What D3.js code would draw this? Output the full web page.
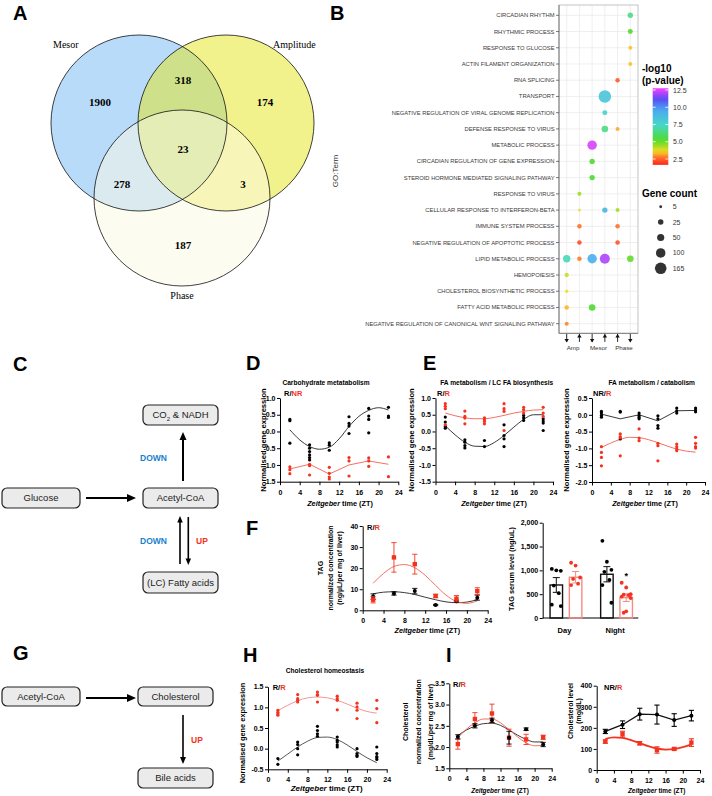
<!DOCTYPE html>
<html><head><meta charset="utf-8">
<script src="https://cdn.jsdelivr.net/npm/d3@7"></script>
<style>body{margin:0;background:#fff}svg{display:block}</style>
</head><body><svg id="c" width="712" height="796"></svg>
<script>
// ---------------- DATA ----------------
// Panel A (Venn)
const vennSets = ["Mesor", "Amplitude", "Phase"];
const vennRegions = ["M", "MA", "A", "MAP", "MP", "AP", "P"];
const vennCounts = [1900, 318, 174, 23, 278, 3, 187];

// Panel B (GO dot plot)
const goTerms = ["CIRCADIAN RHYTHM","RHYTHMIC PROCESS","RESPONSE TO GLUCOSE","ACTIN FILAMENT ORGANIZATION","RNA SPLICING","TRANSPORT","NEGATIVE REGULATION OF VIRAL GENOME REPLICATION","DEFENSE RESPONSE TO VIRUS","METABOLIC PROCESS","CIRCADIAN REGULATION OF GENE EXPRESSION","STEROID HORMONE MEDIATED SIGNALING PATHWAY","RESPONSE TO VIRUS","CELLULAR RESPONSE TO INTERFERON-BETA","IMMUNE SYSTEM PROCESS","NEGATIVE REGULATION OF APOPTOTIC PROCESS","LIPID METABOLIC PROCESS","HEMOPOIESIS","CHOLESTEROL BIOSYNTHETIC PROCESS","FATTY ACID METABOLIC PROCESS","NEGATIVE REGULATION OF CANONICAL WNT SIGNALING PATHWAY"];
const goGroups = ["Amp", "Mesor", "Phase"];
const goDirections = ["down","up","down","up","up","down"];
const goDotTerm  = [0,1,2,3,4,5,6,7,7,8, 9,10,11,12,12,12,13,13,14,14, 15,15,15,15,15,16,17,18,18,19];
const goDotCol   = [5,5,5,5,4,3,3,3,4,2, 2,2,1,1,3,4,1,4,1,4, 0,1,2,3,5,0,0,0,2,0];
const goDotLogP  = [6.5,5.3,3.4,3.4,2.4,8.3,7.7,6.5,3.2,12.4, 5.3,5.3,4.4,3.7,9.0,4.4,2.7,2.7,2.2,2.3, 7.2,2.8,9.3,12.0,5.0,4.0,3.6,3.3,5.3,2.9];
const goDotCount = [24,20,12,12,15,200,20,40,12,98, 24,24,12,5,24,12,16,16,16,16, 54,16,98,114,40,14,8,16,40,12];
const pLegendTicks = [2.5, 5.0, 7.5, 10.0, 12.5];
const countLegend = [5, 25, 50, 100, 165];

// Time points
const ZT = [2, 6, 10, 14, 18, 22];
const curveZT = [2, 4, 6, 8, 10, 12, 14, 16, 18, 20, 22];
const ztTicks = [0, 4, 8, 12, 16, 20, 24];

// Panel D
const dBlackPts = [[0.36,0.32,-0.35],[-0.4,-0.5,-0.6,-0.7,-0.78,-0.85],[-0.34,-0.41,-0.56],[0.44,0.24,0.16,-0.06],[0.69,0.46,0.36,-0.04],[0.72,0.46,0.42]];
const dRedPts = [[-1.06,-1.14,-1.26],[-0.98,-1.02,-1.3],[-1.07,-1.25,-1.36,-1.42],[-0.78,-0.88,-1.33],[-0.79,-0.88,-1.04],[-0.76,-1.35]];
const dBlackCurve = [0.05,-0.25,-0.45,-0.53,-0.47,-0.22,0.15,0.45,0.63,0.71,0.64];
const dRedLine = [-1.12,-0.98,-1.27,-1.0,-0.88,-0.98];

// Panel E left
const eLBlackPts = [[0.43,0.28,0.15,0.10],[-0.25,-0.32,-0.42,-0.49],[-0.27,-0.45],[0.2,-0.12,-0.22,-0.45],[0.48,0.41,0.33],[0.38,0.31,0.25,0.03]];
const eLRedPts = [[0.83,0.75,0.68,0.2],[0.61,0.45,0.4,0.23],[0.41,0.35,0.3,0.23],[0.83,0.68,0.6,0.03],[0.72,0.65,0.55],[0.72,0.55,0.45]];
const eLBlackCurve = [0.17,-0.1,-0.32,-0.44,-0.45,-0.33,-0.12,0.13,0.36,0.5,0.5];
const eLRedCurve = [0.55,0.47,0.41,0.38,0.38,0.42,0.48,0.55,0.6,0.64,0.65];

// Panel E right
const eRBlackPts = [[0.1,0.05,-0.02,-0.07],[0.1,0.08,-0.72],[0.05,-0.02,-0.07,-0.12],[-0.03,-0.12,-0.32,-0.4],[0.2,0.12,0.05],[0.2,0.14,0.09]];
const eRBlackLine = [0.02,-0.12,0.0,-0.18,0.12,0.13];
const eRRedPts = [[-0.95,-1.12,-1.27,-1.52],[-0.57,-0.65,-0.69,-1.22],[-0.42,-0.69,-0.77],[-0.85,-0.92,-1.37],[-0.87,-0.95,-1.02,-1.07],[-0.67,-0.85,-0.95,-0.99]];
const eRRedCurve = [-0.97,-0.84,-0.73,-0.67,-0.68,-0.74,-0.83,-0.93,-1.02,-1.08,-1.11];

// Panel F TAG liver
const tagBlackMean = [6.5,8.0,9.1,2.5,4.3,6.0];
const tagBlackErr  = [1.3,0.8,1.3,0.3,0.5,1.2];
const tagRedMean   = [5.0,25.1,21.9,6.8,5.5,9.1];
const tagRedErr    = [1.5,7.0,4.7,0.8,1.5,1.6];
const tagBlackCurve = [7.8,8.6,8.8,8.4,7.5,6.2,5.0,4.0,3.6,3.9,5.1];
const tagRedCurve   = [12.8,17.5,20.8,21.7,20.2,16.6,11.8,7.2,4.2,3.3,4.5];

// Panel F TAG serum
const serumCats = ["Day", "Night"];
const serumBlackMean = [693, 918];
const serumBlackSEM  = [155, 160];
const serumRedMean   = [855, 427];
const serumRedSEM    = [120, 80];
const serumBlackPts = [[1030,1000,990,680,520,280,250],[1620,1180,1010,970,800,690,320]];
const serumRedPts   = [[1160,1100,850,820,720,690],[740,640,500,490,480,450,420,140,110]];

// Panel H
const hRedPts = [[0.93,0.88,0.84,0.81],[1.31,1.21,1.17,1.13],[1.37,1.31,1.29,1.13],[1.27,1.21,1.17,0.94],[1.1,1.01,0.93,0.73],[1.17,0.97,0.63]];
const hBlackPts = [[-0.24,-0.38],[0.16,0.1,0.0,-0.15],[0.54,0.44,0.36,0.3],[0.28,0.2,0.16,0.09,0.04],[0.0,-0.12,-0.16,-0.19],[0.04,-0.12,-0.19,-0.22,-0.26]];
const hRedCurve = [0.92,1.05,1.16,1.23,1.25,1.23,1.17,1.08,0.98,0.9,0.86];
const hBlackCurve = [-0.3,-0.13,0.04,0.18,0.27,0.28,0.22,0.09,-0.07,-0.22,-0.34];

// Panel I left
const iLBlackMean = [2.24,2.5,2.63,2.22,2.42,2.06];
const iLBlackErr  = [0.05,0.05,0.05,0.15,0.03,0.05];
const iLRedMean   = [2.07,2.66,2.79,2.22,2.18,2.23];
const iLRedErr    = [0.12,0.15,0.22,0.2,0.12,0.05];
const iLBlackCurve = [2.27,2.4,2.49,2.55,2.56,2.51,2.4,2.28,2.18,2.12,2.12];
const iLRedCurve   = [2.22,2.42,2.57,2.66,2.66,2.57,2.41,2.24,2.1,2.03,2.04];

// Panel I right
const iRBlackMean = [183,215,265,263,237,258];
const iRBlackErr  = [10,18,28,45,30,25];
const iRRedMean   = [135,170,127,95,100,130];
const iRRedErr    = [8,14,8,15,6,18];
const iRRedCurve  = [148,155,152,142,128,113,102,97,99,108,122];

// ---------------- DRAWING ----------------
const FONT = '"Liberation Sans", Arial, Helvetica, sans-serif';
const SERIF = '"Liberation Serif", "Times New Roman", serif';
const RED = "#f3331f", REDL = "#f2604f", BLUE = "#1a80cc";
const svg = d3.select("#c");
svg.append("rect").attr("width", 712).attr("height", 796).attr("fill", "#fff");

function T(x, y, s, o = {}) {
  const t = svg.append("text").attr("x", x).attr("y", y)
    .attr("font-family", o.family || FONT).attr("font-size", o.size || 7)
    .attr("font-weight", o.weight || "normal").attr("fill", o.fill || "#000")
    .attr("text-anchor", o.anchor || "start");
  if (o.rotate) t.attr("transform", `rotate(-90,${x},${y})`);
  if (o.style) t.attr("font-style", o.style);
  t.text(s);
  return t;
}
const f1 = v => d3.format(".1f")(v).replace("\u2212", "-");
const f0 = v => d3.format("d")(v).replace("\u2212", "-");

// panel letters
[["A",13,20],["B",330,20],["C",13,371],["D",246,370],["E",423,370],["F",246,535],["G",13,660],["H",243,662],["I",446,662]]
  .forEach(([l,x,y]) => T(x, y, l, {size: 20, weight: "bold"}));

// ---------- A: Venn ----------
const vennLayout = [{cx:139,cy:123,fill:"#71b7f5"},{cx:226,cy:123,fill:"#e5e519"},{cx:182,cy:198,fill:"#fbf9e3"}];
vennLayout.forEach(c => svg.append("circle").attr("cx", c.cx).attr("cy", c.cy).attr("r", 88)
  .attr("fill", c.fill).attr("fill-opacity", 0.5).attr("stroke", "none"));
vennLayout.forEach(c => svg.append("circle").attr("cx", c.cx).attr("cy", c.cy).attr("r", 88)
  .attr("fill", "none").attr("stroke", "#111").attr("stroke-width", 0.8));
T(53, 48, vennSets[0], {family: SERIF, size: 10});
T(273, 48, vennSets[1], {family: SERIF, size: 10});
T(182, 299, vennSets[2], {family: SERIF, size: 10, anchor: "middle"});
const vennLabelPos = {M:[100,102], MA:[183,80], A:[265,102], MAP:[183,149], MP:[122,184], AP:[243,184], P:[183,245]};
vennRegions.forEach((r, i) => T(vennLabelPos[r][0], vennLabelPos[r][1] + 4, vennCounts[i], {family: SERIF, size: 11, weight: "bold", anchor: "middle"}));
T(338, 171, "GO:Term", {size: 8, fill: "#333", anchor: "middle", rotate: true});

// ---------- B: dot plot ----------
const pColor = d3.scaleLinear().domain([1.6,2.8,3.6,5.2,7.4,9.6,11.2,12.8])
  .range(["#ff1f1f","#ff7a2a","#f5dd22","#4fdc2a","#46d8c8","#4aa8f0","#5a4af5","#ff40ff"]);
const rSize = d3.scalePow().exponent(0.4).domain([0, 165]).range([0, 5.8]);
const gx = d3.scalePoint().domain(d3.range(6)).range([566.7, 630.3]);
const gy = d3.scalePoint().domain(goTerms).range([15.3, 323.7]);
const P = {l: 559, r: 638, t: 5, b: 333.4};
svg.append("rect").attr("x", P.l).attr("y", P.t).attr("width", P.r - P.l).attr("height", P.b - P.t).attr("fill", "#fff");
goTerms.forEach(t => svg.append("line").attr("x1", P.l).attr("x2", P.r).attr("y1", gy(t)).attr("y2", gy(t)).attr("stroke", "#e8e8e8").attr("stroke-width", 0.7));
d3.range(6).forEach(c => svg.append("line").attr("y1", P.t).attr("y2", P.b).attr("x1", gx(c)).attr("x2", gx(c)).attr("stroke", "#e8e8e8").attr("stroke-width", 0.7));
svg.append("rect").attr("x", P.l).attr("y", P.t).attr("width", P.r - P.l).attr("height", P.b - P.t).attr("fill", "none").attr("stroke", "#b5b5b5").attr("stroke-width", 0.8);
svg.append("line").attr("x1", P.l).attr("x2", P.l).attr("y1", P.t).attr("y2", P.b).attr("stroke", "#8a8a8a").attr("stroke-width", 1.2);
svg.append("line").attr("x1", P.l).attr("x2", P.r).attr("y1", P.b).attr("y2", P.b).attr("stroke", "#8a8a8a").attr("stroke-width", 1.2);
goTerms.forEach(t => {
  svg.append("line").attr("x1", P.l - 3).attr("x2", P.l).attr("y1", gy(t)).attr("y2", gy(t)).attr("stroke", "#444").attr("stroke-width", 0.7);
  T(P.l - 4.5, gy(t) + 2, t, {size: 5.8, fill: "#3a3a3a", anchor: "end"});
});
goDotTerm.forEach((ti, i) => svg.append("circle").attr("cx", gx(goDotCol[i])).attr("cy", gy(goTerms[ti]))
  .attr("r", rSize(goDotCount[i])).attr("fill", pColor(goDotLogP[i])).attr("fill-opacity", 0.9));
goDirections.forEach((d, c) => {
  const cx = gx(c);
  svg.append("line").attr("x1", cx).attr("x2", cx).attr("y1", P.b + 0.5).attr("y2", P.b + 8.5).attr("stroke", "#111").attr("stroke-width", 0.9);
  const tip = d === "down" ? P.b + 9 : P.b + 0.5, base = d === "down" ? tip - 3.5 : tip + 3.5;
  svg.append("path").attr("d", `M${cx-2.2},${base}L${cx+2.2},${base}L${cx},${tip}Z`).attr("fill", "#111");
});
goGroups.forEach((g, k) => T((gx(2*k) + gx(2*k+1)) / 2, 350, g, {size: 6.2, fill: "#333", anchor: "middle"}));

// colour legend
T(642, 72, "-log10", {size: 10, weight: "bold"});
T(642, 84, "(p-value)", {size: 10, weight: "bold"});
const ly = d3.scaleLinear().domain([2.5, 12.5]).range([159, 90]);
const defs = svg.append("defs");
const grad = defs.append("linearGradient").attr("id", "pg").attr("x1", 0).attr("x2", 0).attr("y1", 1).attr("y2", 0);
const vLo = 1.65, vHi = 12.76;
d3.range(0, 1.0001, 0.05).forEach(f => grad.append("stop").attr("offset", f).attr("stop-color", pColor(vLo + f * (vHi - vLo))));
svg.append("rect").attr("x", 652.7).attr("y", ly(vHi)).attr("width", 15.6).attr("height", ly(vLo) - ly(vHi)).attr("fill", "url(#pg)");
pLegendTicks.forEach(v => {
  svg.append("line").attr("x1", 652.7).attr("x2", 655.7).attr("y1", ly(v)).attr("y2", ly(v)).attr("stroke", "#fff").attr("stroke-width", 0.8);
  svg.append("line").attr("x1", 665.3).attr("x2", 668.3).attr("y1", ly(v)).attr("y2", ly(v)).attr("stroke", "#fff").attr("stroke-width", 0.8);
  T(673, ly(v) + 2.5, f1(v), {size: 7, fill: "#333"});
});
// size legend
T(642, 197, "Gene count", {size: 10, weight: "bold"});
const sy = d3.scalePoint().domain(countLegend).range([206.7, 268.3]);
countLegend.forEach(c => {
  svg.append("circle").attr("cx", 660.7).attr("cy", sy(c)).attr("r", rSize(c)).attr("fill", "#333");
  T(672.7, sy(c) + 2.5, c, {size: 7, fill: "#333"});
});

// ---------- C & G: pathway schematics ----------
function box(x, y, w, h, label) {
  svg.append("rect").attr("x", x).attr("y", y).attr("width", w).attr("height", h).attr("rx", 5)
    .attr("fill", "#ebebeb").attr("stroke", "#222").attr("stroke-width", 1.2);
  return T(x + w / 2, y + h / 2 + 3.4, label, {size: 9.5, fill: "#222", anchor: "middle"});
}
function arrow(x1, y1, x2, y2, w, hl, hw) {
  const dx = x2 - x1, dy = y2 - y1, L = Math.hypot(dx, dy), ux = dx / L, uy = dy / L;
  const bx = x2 - ux * hl, by = y2 - uy * hl;
  svg.append("line").attr("x1", x1).attr("y1", y1).attr("x2", bx + ux).attr("y2", by + uy).attr("stroke", "#000").attr("stroke-width", w);
  svg.append("path").attr("d", `M${x2},${y2}L${bx - uy * hw / 2},${by + ux * hw / 2}L${bx + uy * hw / 2},${by - ux * hw / 2}Z`).attr("fill", "#000");
}
const co2 = box(143, 405, 75, 20, "");
co2.append("tspan").text("CO");
co2.append("tspan").attr("font-size", 6).attr("dy", 2.5).text("2");
co2.append("tspan").attr("dy", -2.5).text(" & NADH");
box(2, 488, 78, 20, "Glucose");
box(143, 488, 75, 20, "Acetyl-CoA");
box(143, 572, 75, 21, "(LC) Fatty acids");
arrow(86, 498, 136, 498, 2.2, 9, 8);
arrow(183, 481, 183, 432, 2, 8, 7);
arrow(180, 564, 180, 516, 1.6, 6.5, 5.5);
arrow(188.3, 517, 188.3, 565, 1.6, 6.5, 5.5);
T(140, 461, "DOWN", {size: 8.5, weight: "bold", fill: BLUE});
T(140, 544, "DOWN", {size: 8.5, weight: "bold", fill: BLUE});
T(196, 544, "UP", {size: 8.5, weight: "bold", fill: RED});

box(2, 687, 78, 19, "Acetyl-CoA");
box(138, 687, 75, 19, "Cholesterol");
box(138, 768, 75, 20, "Bile acids");
arrow(86, 698, 136, 698, 2.2, 9, 8);
arrow(183, 715, 183, 764, 1.6, 7, 6);
T(191, 743, "UP", {size: 8.5, weight: "bold", fill: RED});

// ---------- Prism-style XY panels ----------
function axes(x, y, yt, yf, fs = 7) {
  const ax = svg.append("g").attr("transform", `translate(0,${y.range()[0]})`)
    .call(d3.axisBottom(x).tickValues(ztTicks).tickSize(3.5).tickPadding(4.5).tickSizeOuter(0));
  const ay = svg.append("g").attr("transform", `translate(${x.range()[0]},0)`)
    .call(d3.axisLeft(y).tickValues(yt).tickFormat(yf).tickSize(3).tickPadding(1.5).tickSizeOuter(0));
  [ax, ay].forEach(a => {
    a.attr("font-family", FONT).attr("font-size", fs).attr("font-weight", "bold");
    a.selectAll("path,line").attr("stroke", "#000").attr("stroke-width", 1);
    a.selectAll("text").attr("fill", "#000");
  });
}
function reps(x, y, pts, color, r = 1.6) {
  pts.forEach((arr, i) => arr.forEach(v => svg.append("circle").attr("cx", x(ZT[i])).attr("cy", y(v)).attr("r", r).attr("fill", color)));
}
function smooth(x, y, vals, color, w = 0.9) {
  svg.append("path").datum(vals).attr("fill", "none").attr("stroke", color).attr("stroke-width", w)
    .attr("d", d3.line().x((d, i) => x(curveZT[i])).y(d => y(d)).curve(d3.curveMonotoneX));
}
function poly(x, y, vals, color, w = 0.9) {
  svg.append("path").datum(vals).attr("fill", "none").attr("stroke", color).attr("stroke-width", w)
    .attr("d", d3.line().x((d, i) => x(ZT[i])).y(d => y(d)));
}
function errs(x, y, means, es, color, shape, w = 0.9) {
  means.forEach((m, i) => {
    const cx = x(ZT[i]);
    svg.append("line").attr("x1", cx).attr("x2", cx).attr("y1", y(m - es[i])).attr("y2", y(m + es[i])).attr("stroke", color).attr("stroke-width", w);
    [m - es[i], m + es[i]].forEach(v => svg.append("line").attr("x1", cx - 2.6).attr("x2", cx + 2.6).attr("y1", y(v)).attr("y2", y(v)).attr("stroke", color).attr("stroke-width", w));
    if (shape === "sq") svg.append("rect").attr("x", cx - 2.2).attr("y", y(m) - 2.2).attr("width", 4.4).attr("height", 4.4).attr("fill", color);
    else svg.append("circle").attr("cx", cx).attr("cy", y(m)).attr("r", 2).attr("fill", color);
  });
}
function RL(x, y, a, b) {
  const t = T(x, y, "", {size: 7.5, weight: "bold"});
  t.append("tspan").text(a);
  t.append("tspan").attr("fill", RED).text(b);
}
function ZL(cx, y, size) {
  const t = T(cx, y, "", {size, weight: "bold", anchor: "middle"});
  t.append("tspan").attr("font-style", "italic").text("Zeitgeber");
  t.append("tspan").text(" time (ZT)");
}
function YL(cxs, cy, lines, size) {
  lines.forEach((s, k) => T(cxs[k] + 0.35 * size, cy, s, {size, weight: "bold", anchor: "middle", rotate: true}));
}
const yT1 = [-1.5, -1, -0.5, 0, 0.5, 1];

// D
{
  const x = d3.scaleLinear([0, 24], [280, 398.3]), y = d3.scaleLinear([-1.5, 1], [481.7, 398]);
  axes(x, y, yT1, f1);
  smooth(x, y, dBlackCurve, "#222");
  poly(x, y, dRedLine, REDL);
  reps(x, y, dBlackPts, "#000");
  reps(x, y, dRedPts, RED);
  T(326, 385, "Carbohydrate metatabolism", {size: 6.6, weight: "bold", anchor: "middle"});
  RL(284, 396, "R/", "NR");
  ZL(340, 506, 7.3);
  YL([263.3], 440, ["Normalised gene expression"], 7.6);
}
// E left
{
  const x = d3.scaleLinear([0, 24], [435.5, 553]), y = d3.scaleLinear([-1.5, 1], [481.7, 398]);
  axes(x, y, yT1, f1);
  smooth(x, y, eLBlackCurve, "#222");
  smooth(x, y, eLRedCurve, REDL);
  reps(x, y, eLBlackPts, "#000");
  reps(x, y, eLRedPts, RED);
  T(496.7, 385, "FA metabolism / LC FA biosynthesis", {size: 6.6, weight: "bold", anchor: "middle"});
  RL(437, 396, "R/", "R");
  ZL(494, 506, 7.3);
  YL([411.7], 440, ["Normalised gene expression"], 7.6);
}
// E right
{
  const x = d3.scaleLinear([0, 24], [592, 705]), y = d3.scaleLinear([-2, 0.5], [482, 398]);
  axes(x, y, [-2, -1.5, -1, -0.5, 0, 0.5], f1);
  poly(x, y, eRBlackLine, "#222");
  smooth(x, y, eRRedCurve, REDL);
  reps(x, y, eRBlackPts, "#000");
  reps(x, y, eRRedPts, RED);
  T(651.7, 385, "FA metabolism / catabolism", {size: 6.6, weight: "bold", anchor: "middle"});
  RL(593, 396, "NR/", "R");
  ZL(645, 506, 7.3);
  YL([566.7], 440, ["Normalised gene expression"], 7.6);
}
// F TAG liver
{
  const x = d3.scaleLinear([0, 24], [362.7, 487.7]), y = d3.scaleLinear([0, 40], [610.3, 526]);
  axes(x, y, [0, 10, 20, 30, 40], f0);
  smooth(x, y, tagBlackCurve, "#222");
  smooth(x, y, tagRedCurve, REDL);
  errs(x, y, tagBlackMean, tagBlackErr, "#000", "c");
  errs(x, y, tagRedMean, tagRedErr, RED, "sq");
  RL(367, 530, "R/", "R");
  ZL(427.3, 633, 7.3);
  YL([320.7, 330.5, 340], 568, ["TAG", "normalized concentration", "(ng/\u00b5L/per mg of liver)"], 7);
}
// F TAG serum bars
{
  const y = d3.scaleLinear([0, 2000], [618, 522.7]);
  const xc = d3.scalePoint().domain(serumCats).range([566, 616.6]);
  const xs = d3.scalePoint().domain(["black", "red"]).range([-9.7, 9.6]);
  const ay = svg.append("g").attr("transform", "translate(542.7,0)")
    .call(d3.axisLeft(y).tickValues([0, 500, 1000, 1500, 2000]).tickSize(3).tickPadding(1.5).tickSizeOuter(0));
  ay.attr("font-family", FONT).attr("font-size", 7).attr("font-weight", "bold");
  ay.selectAll("path,line").attr("stroke", "#000").attr("stroke-width", 1);
  ay.selectAll("text").attr("fill", "#000");
  svg.append("line").attr("x1", 542.7).attr("x2", 638.3).attr("y1", 618).attr("y2", 618).attr("stroke", "#000").attr("stroke-width", 1);
  const jit = [-4.5, 0, 4.5, -2.5, 2.5, -4.5, 4.5, 0, -2.5];
  const series = [["black", serumBlackMean, serumBlackSEM, serumBlackPts, "#111", "#000"], ["red", serumRedMean, serumRedSEM, serumRedPts, "#f48c84", RED]];
  series.forEach(([k, mean, sem, pts, stroke, pc]) => {
    serumCats.forEach((c, i) => {
      const cx = xc(c) + xs(k), bw = 12.5;
      svg.append("rect").attr("x", cx - bw / 2).attr("y", y(mean[i])).attr("width", bw).attr("height", y(0) - y(mean[i]))
        .attr("fill", "none").attr("stroke", stroke).attr("stroke-width", 1.4);
      svg.append("line").attr("x1", cx).attr("x2", cx).attr("y1", y(mean[i] - sem[i])).attr("y2", y(mean[i] + sem[i])).attr("stroke", stroke).attr("stroke-width", 1);
      [mean[i] - sem[i], mean[i] + sem[i]].forEach(v => svg.append("line").attr("x1", cx - 3.5).attr("x2", cx + 3.5).attr("y1", y(v)).attr("y2", y(v)).attr("stroke", stroke).attr("stroke-width", 1));
      pts[i].forEach((v, j) => svg.append("circle").attr("cx", cx + jit[j % jit.length]).attr("cy", y(v)).attr("r", 1.9).attr("fill", pc));
    });
  });
  serumCats.forEach(c => T(xc(c) - 1.5, 633, c, {size: 7.5, weight: "bold", anchor: "middle"}));
  T(xc("Night") + xs("red"), 578.5, "*", {size: 9, weight: "bold", anchor: "middle"});
  YL([511.7], 569, ["TAG serum level (ng/uL)"], 7.3);
}
// H
{
  const x = d3.scaleLinear([0, 24], [268, 386.7]), y = d3.scaleLinear([-0.5, 1.5], [769.3, 686.7]);
  axes(x, y, [-0.5, 0, 0.5, 1, 1.5], f1);
  smooth(x, y, hBlackCurve, "#444");
  smooth(x, y, hRedCurve, "#f48a84");
  reps(x, y, hBlackPts, "#000");
  reps(x, y, hRedPts, RED);
  T(325, 673, "Cholesterol homeostasis", {size: 6.6, weight: "bold", anchor: "middle"});
  RL(272.7, 690, "R/", "R");
  ZL(326.7, 791, 8);
  YL([242.7], 733, ["Normalised gene expression"], 7.4);
}
// I left
{
  const x = d3.scaleLinear([0, 24], [449.3, 551.7]), y = d3.scaleLinear([1.5, 3.5], [768.3, 683.3]);
  axes(x, y, [1.5, 2, 2.5, 3, 3.5], f1);
  smooth(x, y, iLBlackCurve, "#222");
  smooth(x, y, iLRedCurve, REDL);
  errs(x, y, iLRedMean, iLRedErr, RED, "sq");
  errs(x, y, iLBlackMean, iLBlackErr, "#000", "c");
  RL(453, 687, "R/", "R");
  ZL(500, 793, 6.4);
  YL([406, 418.5, 430.5], 721.7, ["Cholesterol", "normalized concentration", "(mg/dL/per mg of liver)"], 7);
}
// I right
{
  const x = d3.scaleLinear([0, 24], [596.7, 700]), y = d3.scaleLinear([0, 400], [770, 685.7]);
  axes(x, y, [0, 100, 200, 300, 400], f0);
  poly(x, y, iRBlackMean, "#111", 1.3);
  smooth(x, y, iRRedCurve, RED, 1.8);
  errs(x, y, iRBlackMean, iRBlackErr, "#000", "c", 1.1);
  errs(x, y, iRRedMean, iRRedErr, RED, "sq", 1.1);
  RL(604, 690, "NR/", "R");
  ZL(656.7, 793, 6.4);
  YL([570.5, 578.8], 711, ["Cholesterol level", "(mg/dL)"], 7);
}
</script></body></html>
